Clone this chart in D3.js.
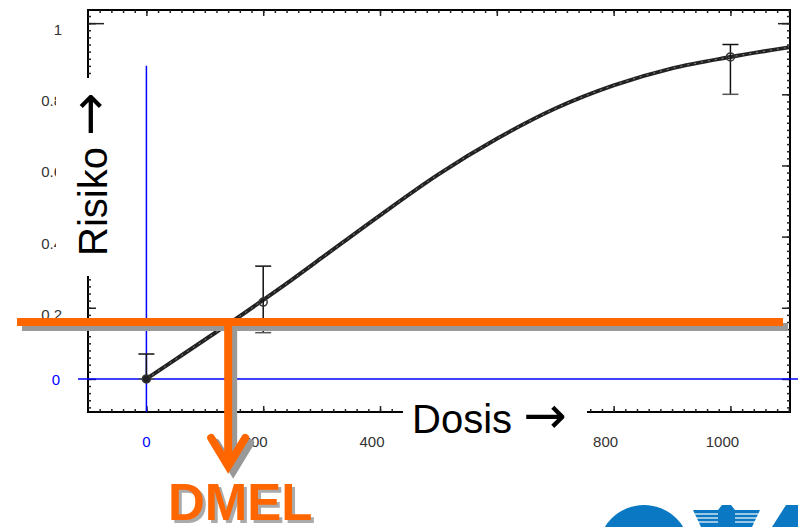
<!DOCTYPE html>
<html>
<head>
<meta charset="utf-8">
<script src="https://cdn.jsdelivr.net/npm/d3@7"></script>
<style>
    body { margin: 0; background: #fff; }
    svg { display: block; font-family: "Liberation Sans", Arial, sans-serif; }
</style>
</head>
<body>
<svg id="chart" width="798" height="527"></svg>
<script>
// measured points with error bars
var doses = [0, 200, 1000];
var risks = [0, 0.216, 0.905];
var errLow = [0, 0.13, 0.80];
var errHigh = [0.07, 0.317, 0.94];

// fitted dose-response curve
var curveDose = [0, 50, 100, 150, 200, 250, 300, 400, 500, 600, 700, 800, 900, 1000, 1100];
var curveRisk = [0, 0.055, 0.11, 0.165, 0.222, 0.28, 0.34, 0.46, 0.575, 0.675, 0.76, 0.825, 0.873, 0.905, 0.932];

// tick labels
var xTickValues = [200, 400, 600, 800, 1000];
var yTickValues = [0.2, 0.4, 0.6, 0.8, 1];

// DMEL threshold
var dmelRisk = 0.16;
var dmelDose = 140;

var orange = '#ff6600';
var blue = '#0000ff';
var shadow = '#999999';

var svg = d3.select('#chart');

var x = d3.scaleLinear().domain([-100, 1102]).range([88, 790]);
var y = d3.scaleLinear().domain([-0.093, 1.037]).range([412, 10]);

var plotLeft = x.range()[0], plotRight = x.range()[1];
var plotTop = y.range()[1], plotBottom = y.range()[0];

// frame
svg.append('rect')
    .attr('x', plotLeft).attr('y', plotTop)
    .attr('width', plotRight - plotLeft).attr('height', plotBottom - plotTop)
    .attr('fill', 'none').attr('stroke', '#000').attr('stroke-width', 2);

var xMinor = d3.range(-80, 1101, 20);
var xMajor = d3.range(0, 1001, 200);
var yMinor = d3.range(-0.08, 1.03, 0.02);
var yMajor = d3.range(0, 1.01, 0.2);

function tickGroup(axis, tx, ty) {
    var g = svg.append('g')
        .attr('transform', 'translate(' + tx + ',' + ty + ')')
        .call(axis);
    g.select('.domain').remove();
    g.selectAll('.tick line').attr('stroke', '#222').attr('stroke-width', 1.5);
    g.selectAll('.tick text').remove();
    return g;
}

tickGroup(d3.axisBottom(x).tickValues(xMinor).tickSize(-3).tickFormat(''), 0, plotBottom);
tickGroup(d3.axisBottom(x).tickValues(xMajor).tickSize(-6).tickFormat(''), 0, plotBottom);
tickGroup(d3.axisTop(x).tickValues(xMinor).tickSize(-3).tickFormat(''), 0, plotTop);
tickGroup(d3.axisTop(x).tickValues(xMajor).tickSize(-6).tickFormat(''), 0, plotTop);
tickGroup(d3.axisLeft(y).tickValues(yMinor).tickSize(-3).tickFormat(''), plotLeft, 0);
tickGroup(d3.axisLeft(y).tickValues(yMajor).tickSize(-8).tickFormat(''), plotLeft, 0);
tickGroup(d3.axisLeft(y).tickValues([1]).tickSize(-16).tickFormat(''), plotLeft, 0);
tickGroup(d3.axisRight(y).tickValues(yMinor).tickSize(-3).tickFormat(''), plotRight, 0);
tickGroup(d3.axisRight(y).tickValues(yMajor).tickSize(-8).tickFormat(''), plotRight, 0);
tickGroup(d3.axisRight(y).tickValues([1]).tickSize(-12).tickFormat(''), plotRight, 0);

// tick labels
svg.append('g').selectAll('text')
    .data(xTickValues)
    .join('text')
    .attr('x', function(d) { return x(d) - 8; })
    .attr('y', 447)
    .attr('text-anchor', 'middle')
    .attr('font-size', 15)
    .attr('fill', '#333')
    .text(function(d) { return d; });

svg.append('g').selectAll('text')
    .data(yTickValues)
    .join('text')
    .attr('x', 62)
    .attr('y', function(d) { return y(d) + 12; })
    .attr('text-anchor', 'end')
    .attr('font-size', 15)
    .attr('fill', '#333')
    .text(function(d) { return d; });

// blue zero labels
svg.append('text')
    .attr('x', x(0)).attr('y', 447)
    .attr('text-anchor', 'middle')
    .attr('font-size', 15).attr('fill', blue)
    .text('0');
svg.append('text')
    .attr('x', 60).attr('y', y(0) + 6)
    .attr('text-anchor', 'end')
    .attr('font-size', 15).attr('fill', blue)
    .text('0');

// blue zero lines
svg.append('line')
    .attr('x1', x(0)).attr('x2', x(0))
    .attr('y1', y(0.88)).attr('y2', plotBottom)
    .attr('stroke', blue).attr('stroke-width', 1.5);
svg.append('line')
    .attr('x1', 78).attr('x2', 798)
    .attr('y1', y(0)).attr('y2', y(0))
    .attr('stroke', blue).attr('stroke-width', 1.5);

// dose-response curve
var curveData = curveDose.map(function(d, i) { return [d, curveRisk[i]]; });
var line = d3.line()
    .x(function(d) { return x(d[0]); })
    .y(function(d) { return y(d[1]); })
    .curve(d3.curveMonotoneX);

svg.append('path')
    .datum(curveData)
    .attr('d', line)
    .attr('fill', 'none')
    .attr('stroke', '#222')
    .attr('stroke-width', 4);
svg.append('path')
    .datum(curveData)
    .attr('d', line)
    .attr('fill', 'none')
    .attr('stroke', '#888')
    .attr('stroke-width', 1)
    .attr('stroke-dasharray', '2,5');

// error bars
var points = doses.map(function(d, i) {
    return { dose: d, risk: risks[i], lo: errLow[i], hi: errHigh[i] };
});
var eb = svg.append('g').selectAll('g')
    .data(points)
    .join('g');
eb.append('line')
    .attr('x1', function(d) { return x(d.dose); })
    .attr('x2', function(d) { return x(d.dose); })
    .attr('y1', function(d) { return y(d.lo); })
    .attr('y2', function(d) { return y(d.hi); })
    .attr('stroke', '#111').attr('stroke-width', 1.5);
eb.append('line')
    .attr('x1', function(d) { return x(d.dose) - 8; })
    .attr('x2', function(d) { return x(d.dose) + 8; })
    .attr('y1', function(d) { return y(d.hi); })
    .attr('y2', function(d) { return y(d.hi); })
    .attr('stroke', '#111').attr('stroke-width', 1.5);
eb.append('line')
    .attr('x1', function(d) { return x(d.dose) - 8; })
    .attr('x2', function(d) { return x(d.dose) + 8; })
    .attr('y1', function(d) { return y(d.lo); })
    .attr('y2', function(d) { return y(d.lo); })
    .attr('stroke', '#555').attr('stroke-width', 1.5);
eb.append('circle')
    .attr('cx', function(d) { return x(d.dose); })
    .attr('cy', function(d) { return y(d.risk); })
    .attr('r', 4)
    .attr('fill', function(d, i) { return i === 0 ? '#222' : 'none'; })
    .attr('stroke', '#333').attr('stroke-width', 1.5);

// DMEL lines with shadow
var hy = y(dmelRisk);
var vx = x(dmelDose);
var shadowG = svg.append('g').attr('transform', 'translate(5,5)');
var mainG = svg.append('g');
[shadowG, mainG].forEach(function(g, i) {
    var c = i === 0 ? shadow : orange;
    g.append('line')
        .attr('x1', 17).attr('x2', 783)
        .attr('y1', hy).attr('y2', hy)
        .attr('stroke', c).attr('stroke-width', 8);
    g.append('line')
        .attr('x1', vx).attr('x2', vx)
        .attr('y1', hy).attr('y2', 466)
        .attr('stroke', c).attr('stroke-width', 8);
    g.append('path')
        .attr('d', 'M' + (vx - 17) + ',438 L' + vx + ',466 L' + (vx + 17) + ',438')
        .attr('fill', 'none')
        .attr('stroke', c).attr('stroke-width', 8)
        .attr('stroke-linecap', 'round')
        .attr('stroke-linejoin', 'miter');
});

// axis titles on white boxes
svg.append('rect')
    .attr('x', 403).attr('y', 392).attr('width', 184).attr('height', 62)
    .attr('fill', '#fff');
var dosis = svg.append('text')
    .attr('x', 412).attr('y', 433)
    .attr('font-size', 40).attr('fill', '#000');
dosis.append('tspan').text('Dosis ');
dosis.append('tspan')
    .attr('font-family', '"Noto Sans", "DejaVu Sans"')
    .attr('font-size', 52)
    .text('\u2192');

svg.append('rect')
    .attr('x', 56).attr('y', 78).attr('width', 56).attr('height', 198)
    .attr('fill', '#fff');
var risiko = svg.append('text')
    .attr('transform', 'translate(107,256) rotate(-90)')
    .attr('font-size', 40).attr('fill', '#000');
risiko.append('tspan').text('Risiko ');
risiko.append('tspan')
    .attr('font-family', '"Noto Sans", "DejaVu Sans"')
    .attr('font-size', 52)
    .text('\u2192');

// DMEL label
svg.append('text')
    .attr('x', 171).attr('y', 523)
    .attr('font-size', 51).attr('font-weight', 'bold')
    .attr('fill', '#aaa')
    .text('DMEL');
svg.append('text')
    .attr('x', 168).attr('y', 520)
    .attr('font-size', 51).attr('font-weight', 'bold')
    .attr('fill', orange)
    .text('DMEL');

// logo fragment, bottom right
var logo = svg.append('g').attr('fill', '#0a78c2');
logo.append('circle').attr('cx', 644).attr('cy', 551).attr('r', 46);
logo.append('path')
    .attr('d', 'M693,510 L718,510 L722,505 L731,505 L735,510 L760,510 L752,527 L701,527 Z');
logo.append('path')
    .attr('d', 'M772,527 L786,505 L798,505 L798,527 Z');
var stripes = svg.append('g').attr('stroke', '#fff').attr('stroke-width', 1.2);
[514, 518, 522].forEach(function(sy) {
    stripes.append('line').attr('x1', 695).attr('x2', 718).attr('y1', sy).attr('y2', sy);
    stripes.append('line').attr('x1', 735).attr('x2', 758).attr('y1', sy).attr('y2', sy);
});
</script>
</body>
</html>
